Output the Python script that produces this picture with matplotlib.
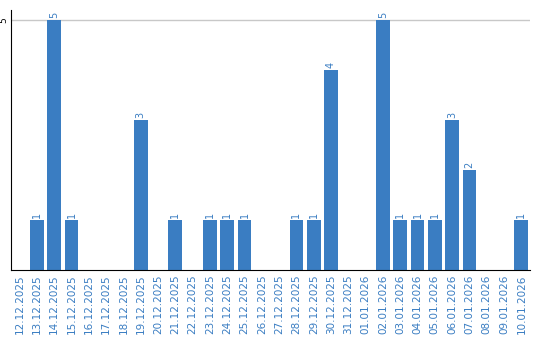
import matplotlib.pyplot as plt
import numpy as np

dates = [
    "12.12.2025", "13.12.2025", "14.12.2025", "15.12.2025", "16.12.2025",
    "17.12.2025", "18.12.2025", "19.12.2025", "20.12.2025", "21.12.2025",
    "22.12.2025", "23.12.2025", "24.12.2025", "25.12.2025", "26.12.2025",
    "27.12.2025", "28.12.2025", "29.12.2025", "30.12.2025", "31.12.2025",
    "01.01.2026", "02.01.2026", "03.01.2026", "04.01.2026", "05.01.2026",
    "06.01.2026", "07.01.2026", "08.01.2026", "09.01.2026", "10.01.2026",
]
counts = [0, 1, 5, 1, 0, 0, 0, 3, 0, 1, 0, 1, 1, 1, 0,
          0, 1, 1, 4, 0, 0, 5, 1, 1, 1, 3, 2, 0, 0, 1]

blue = "#3a7dc2"

fig = plt.figure(figsize=(5.4, 3.4), dpi=100)
ax = fig.add_axes([11 / 540, 70 / 340, 519 / 540, 260 / 340])

x = np.arange(len(dates))
ax.bar(x, counts, width=0.8, color=blue, zorder=2)

for xi, v in zip(x, counts):
    if v > 0:
        ax.text(xi, v + 0.04, str(v), rotation=90, ha="center", va="bottom",
                color=blue, fontsize=7)

ax.set_xlim(-0.5, len(dates) - 0.5)
ax.set_ylim(0, 5.2)
ax.set_yticks([5])
ax.set_yticklabels(["5"], rotation=90, va="center", ha="center", fontsize=6.5)
ax.axhline(5, color="#c8c8c8", lw=1, zorder=1)

ax.set_xticks(x)
ax.set_xticklabels(dates, rotation=90, fontsize=7.5, color=blue)
ax.tick_params(axis="x", length=0, pad=3)
ax.tick_params(axis="y", length=0, pad=5)

for side in ["top", "right"]:
    ax.spines[side].set_visible(False)
ax.spines["left"].set_color("black")
ax.spines["bottom"].set_color("black")

fig.savefig("out.png", dpi=100)
